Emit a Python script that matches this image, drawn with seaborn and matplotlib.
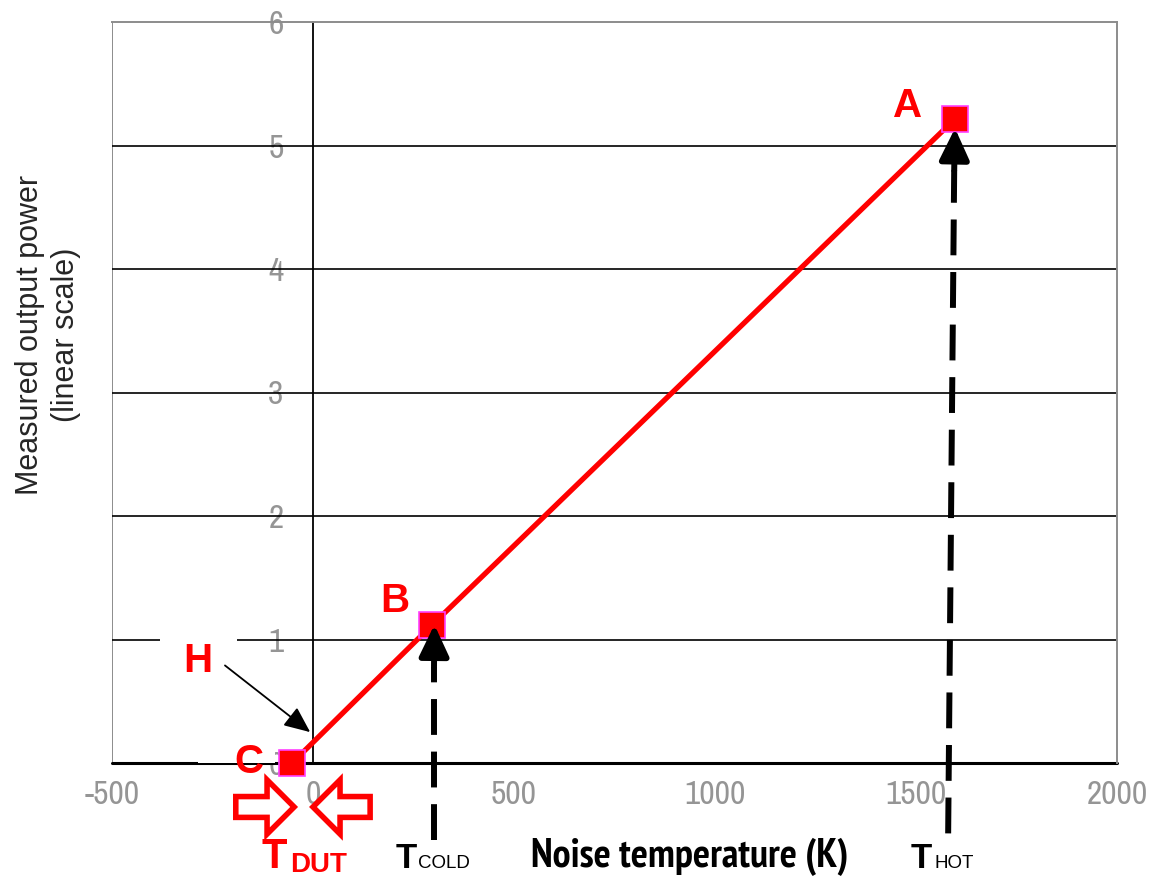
import matplotlib
matplotlib.use("Agg")
import matplotlib.pyplot as plt
import seaborn as sns
from matplotlib import font_manager
from matplotlib.patches import FancyArrowPatch, Rectangle

# Data
temps = [-52, 296, 1597]          # K, points C, B, A
powers = [0.0, 1.117, 5.215]      # measured output power
point_names = ["C", "B", "A"]
x_ticks = [-500, 0, 500, 1000, 1500, 2000]
y_ticks = [0, 1, 2, 3, 4, 5, 6]

sns.set_style("white")
plt.rcParams["font.family"] = ["Liberation Sans", "DejaVu Sans"]
plt.rcParams["axes.unicode_minus"] = False

fonts = font_manager.fontManager.ttflist
names = {f.name for f in fonts}
narrow = ["Archivo Narrow", "Liberation Sans"] if "Archivo Narrow" in names else ["Liberation Sans"]


def has_bold(name):
    for f in fonts:
        if f.name == name and str(f.weight) in ("700", "bold"):
            return True
    return False


bold_narrow = ["Liberation Sans"]
for cand in ["Liberation Sans Narrow", "Archivo Narrow", "PT Sans Narrow",
             "Roboto Condensed", "Fira Sans Condensed", "IBM Plex Sans Condensed"]:
    if cand in names and has_bold(cand):
        bold_narrow = [cand, "Liberation Sans"]
        break

W, H = 1159, 877
fig = plt.figure(figsize=(W / 100, H / 100), dpi=100)
ax = fig.add_axes([112 / W, 1 - 763 / H, 1005 / W, 741 / H])


def fx(px):
    return px / W


def fy(py):
    return 1 - py / H


ax.set_xlim(-500, 2000)
ax.set_ylim(0, 6)
ax.set_xticks(x_ticks)
ax.set_yticks(y_ticks)

# frame: gray border, black y-axis at x=0
for side in ["top", "right"]:
    ax.spines[side].set_color("#8c8c8c")
    ax.spines[side].set_linewidth(1.4)
ax.spines["bottom"].set_visible(False)
ax.spines["left"].set_position(("data", 0))
ax.spines["left"].set_color("black")
ax.spines["left"].set_linewidth(1.3)
ax.axvline(-500, color="#8c8c8c", lw=1.4, zorder=0.6)

for yv in y_ticks[1:-1]:
    ax.axhline(yv, color="black", lw=1.2, zorder=0.6)
ax.axhline(0, color="black", lw=2.2, zorder=0.7, clip_on=False)

ax.tick_params(axis="x", direction="out", length=6.5, width=1.2, color="black",
               pad=6, labelsize=24, labelcolor="#959595")
ax.tick_params(axis="y", direction="out", length=7.2, width=1.2, color="black",
               pad=14, labelsize=24, labelcolor="#959595")
for lab in ax.get_xticklabels() + ax.get_yticklabels():
    lab.set_family(narrow)

# white gaps in the gridlines behind the H and C labels
ax.add_patch(Rectangle((-380, 0.94), 192, 0.12, facecolor="white", edgecolor="none", zorder=1))
ax.add_patch(Rectangle((-285, -0.1), 190, 0.2, facecolor="white", edgecolor="none", zorder=1))

# measured line and points
sns.lineplot(x=temps, y=powers, ax=ax, sort=False, color="red", lw=3.8,
             marker="s", markersize=19, markerfacecolor="red",
             markeredgecolor="#ff40ff", markeredgewidth=1.2,
             clip_on=False, zorder=5)

label_pos = {"C": (-159, -0.08), "B": (204, 1.22), "A": (1478, 5.23)}
for name in point_names:
    lx, ly = label_pos[name]
    ax.text(lx, ly, name, color="red", fontsize=29, fontweight="bold",
            ha="center", va="baseline", zorder=6)

ax.text(-286, 0.737, "H", color="red", fontsize=29, fontweight="bold",
        ha="center", va="baseline", zorder=6)
ax.annotate("", xy=(-7, 0.25), xytext=(-219, 0.79),
            arrowprops=dict(arrowstyle="-|>,head_length=0.8,head_width=0.35",
                            color="black", lw=1.3, mutation_scale=20,
                            shrinkA=0, shrinkB=0),
            zorder=7, annotation_clip=False)

# dashed arrows for T_cold and T_hot
arrows = [((301, -0.62), (301, 0.78), (302, 1.12)),
          ((1580, -0.57), (1595, 4.80), (1597, 5.14))]
for tail, base, tip in arrows:
    ax.plot([tail[0], base[0]], [tail[1], base[1]], color="black", lw=4.3,
            ls=(0, (6, 2.8)), clip_on=False, zorder=7, solid_capstyle="butt",
            dash_capstyle="butt")
    ax.annotate("", xy=tip, xytext=base,
                arrowprops=dict(arrowstyle="-|>,head_length=0.95,head_width=0.45",
                                color="black", lw=4.3, mutation_scale=20,
                                shrinkA=0, shrinkB=0),
                zorder=8, annotation_clip=False)

# hollow red arrows pointing at T_DUT
for start, end in [((-199, -0.356), (-40, -0.356)), ((149, -0.356), (-7, -0.356))]:
    arr = FancyArrowPatch(start, end,
                          arrowstyle="simple,head_length=0.65,head_width=1.3,tail_width=0.5",
                          mutation_scale=30, facecolor="white", edgecolor="red",
                          lw=4, joinstyle="miter", clip_on=False, zorder=6)
    ax.add_patch(arr)

# texts below the axis
fig.text(fx(261), fy(868), "T", color="red", fontsize=30, fontweight="bold", va="baseline")
fig.text(fx(290), fy(872), "DUT", color="red", fontsize=20, fontweight="bold", va="baseline")
fig.text(fx(396), fy(868), "T", color="black", fontsize=25, fontweight="bold", va="baseline")
fig.text(fx(418), fy(868), "COLD", color="black", fontsize=13.5, va="baseline")
fig.text(fx(911), fy(868), "T", color="black", fontsize=25, fontweight="bold", va="baseline")
fig.text(fx(934), fy(868), "HOT", color="black", fontsize=13.5, va="baseline")

xlab = fig.text(fx(690), fy(867), "Noise temperature (K)", color="black", fontsize=25,
                fontweight="bold", ha="center", va="baseline", family=bold_narrow)
# fit the label to the width it has in the reference (about 320 px)
renderer = fig.canvas.get_renderer()
w = xlab.get_window_extent(renderer).width
xlab.set_fontsize(min(29, 25 * 320 / w))

fig.text(fx(48), fy(335), "Measured output power\n(linear scale)", rotation=90,
         fontsize=22, ha="center", va="center", multialignment="center",
         linespacing=1.3)

fig.savefig("out.png", dpi=100)
